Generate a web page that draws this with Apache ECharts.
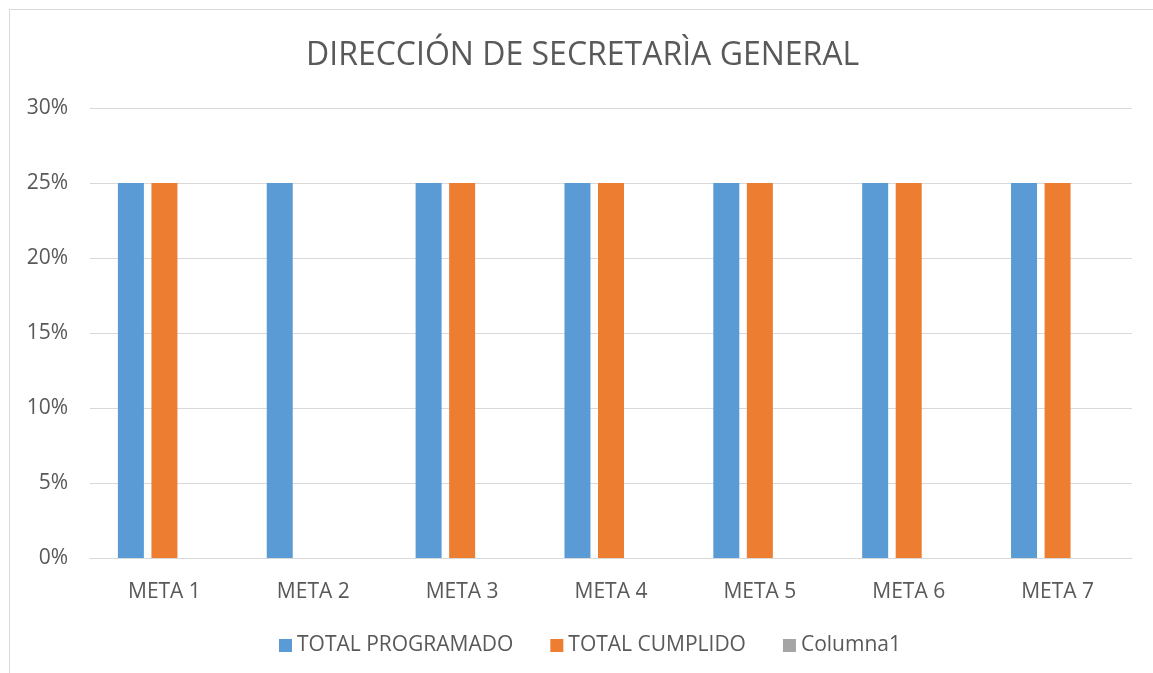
<!DOCTYPE html>
<html><head><meta charset="utf-8">
<script src="https://cdn.jsdelivr.net/npm/echarts@6/dist/echarts.min.js"></script>
<style>
html,body{margin:0;padding:0;background:#fff;}
#frame{position:absolute;left:9px;top:9px;width:1200px;height:700px;border:1px solid #d9d9d9;box-sizing:border-box;}
#c{position:absolute;left:0;top:0;width:1153px;height:673px;}
</style></head>
<body>
<div id="frame"></div>
<div id="c"></div>
<script>
const categories = ['META 1','META 2','META 3','META 4','META 5','META 6','META 7'];
const totalProgramado = [25,25,25,25,25,25,25];
const totalCumplido = [25,0,25,25,25,25,25];
const columna1 = [null,null,null,null,null,null,null];
const yTicks = {min:0, max:30, interval:5};

const font = 'Open Sans, sans-serif';
const txt = '#595959';
const chart = echarts.init(document.getElementById('c'));
chart.setOption({
  animation:false,
  title:{text:'DIRECCIÓN DE SECRETARÌA GENERAL', left:301, top:35,
    textStyle:{fontFamily:font, fontSize:32, fontWeight:'normal', color:txt}},
  legend:{bottom:12, left:274, itemWidth:13, itemHeight:13, itemGap:37,
    icon:'rect', textStyle:{fontFamily:font, fontSize:21, color:txt},
    data:['TOTAL PROGRAMADO','TOTAL CUMPLIDO','Columna1']},
  grid:{left:90, right:21, top:108, bottom:115, containLabel:false},
  xAxis:{type:'category', data:categories,
    axisLine:{lineStyle:{color:'#d9d9d9', width:1}}, axisTick:{show:false},
    axisLabel:{fontFamily:font, fontSize:21, color:txt, margin:24}},
  yAxis:{type:'value', min:yTicks.min, max:yTicks.max, interval:yTicks.interval,
    axisLine:{show:false}, axisTick:{show:false},
    splitLine:{lineStyle:{color:'#d9d9d9', width:1}},
    axisLabel:{formatter:'{value}%', fontFamily:font, fontSize:21, color:txt, margin:22}},
  series:[
    {name:'TOTAL PROGRAMADO', type:'bar', data:totalProgramado, barWidth:26, barGap:'29%', itemStyle:{color:'#5B9BD5'}},
    {name:'TOTAL CUMPLIDO', type:'bar', data:totalCumplido, barWidth:26, barGap:'29%', itemStyle:{color:'#ED7D31'}},
    {name:'Columna1', type:'bar', data:columna1, barWidth:26, barGap:'29%', itemStyle:{color:'#A5A5A5'}}
  ]
});
</script>
</body></html>
